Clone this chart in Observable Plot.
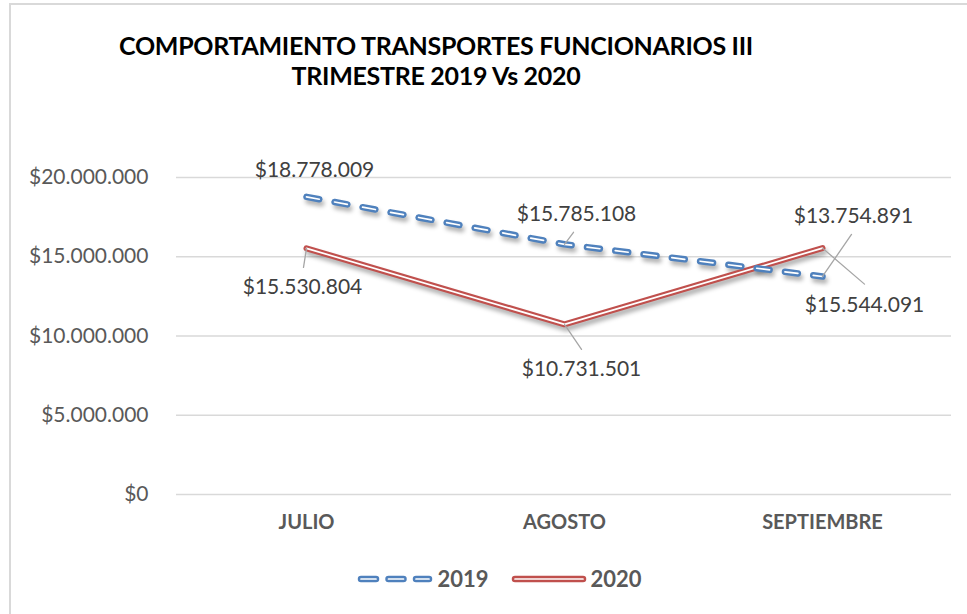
<!DOCTYPE html>
<html>
<head>
<meta charset="utf-8">
<script src="https://cdn.jsdelivr.net/npm/d3@7"></script>
<script src="https://cdn.jsdelivr.net/npm/@observablehq/plot@0.6"></script>
<style>
  html, body { margin: 0; padding: 0; background: #fff; overflow: hidden; }
  #wrap { position: relative; width: 967px; height: 614px; overflow: hidden; font-family: Lato, "Open Sans", sans-serif; }
  #frame { position: absolute; left: 9px; top: 3px; width: 990px; height: 650px; border: 2px solid #d9d9d9; box-sizing: border-box; }
  #chart { position: absolute; left: 0; top: 0; }
  #title { position: absolute; left: 0; width: 872px; top: 30px; text-align: center; font-weight: 700; font-size: 25px; line-height: 30px; color: #000; letter-spacing: -0.3px; }
  #legend { position: absolute; top: 565px; left: 16px; width: 967px; display: flex; justify-content: center; align-items: center; font-weight: 700; font-size: 22px; color: #595959; }
  #legend .item { display: flex; align-items: center; margin: 0 11px; }
  #legend svg { margin-right: 4px; }
</style>
</head>
<body>
<div id="wrap">
  <div id="frame"></div>
  <div id="chart"></div>
  <div id="title">COMPORTAMIENTO TRANSPORTES FUNCIONARIOS III<br>TRIMESTRE 2019 Vs 2020</div>
  <div id="legend"></div>
</div>
<script>
// ---- data ----
const months = ["JULIO", "AGOSTO", "SEPTIEMBRE"];
const seriesNames = ["2019", "2020"];
const values2019 = [18778009, 15785108, 13754891];
const values2020 = [15530804, 10731501, 15544091];
const yTicks = [0, 5000000, 10000000, 15000000, 20000000];

// ---- styling / layout (not data) ----
const colors = { "2019": "#4f81bd", "2020": "#c0504d" };
// data-label offsets in px (dx, dy) relative to the point
const labelOffsets = {
  "2019": [[8, -27], [12, -30], [31, -60]],
  "2020": [[-4, 39], [17, 45], [42, 57]]
};
// leader line offsets in px (end point relative to the data point)
const leaderOffsets = {
  "2019": [null, [9, -12], [29, -42]],
  "2020": [[-3, 19], [17, 25], [42, 36]]
};

const locale = d3.formatLocale({ decimal: ",", thousands: ".", grouping: [3], currency: ["$", ""] });
const fmt = locale.format("$,.0f");

const rows = [];
seriesNames.forEach(s => {
  const vals = s === "2019" ? values2019 : values2020;
  months.forEach((m, i) => rows.push({ series: s, month: m, value: vals[i], idx: i }));
});
const r2019 = rows.filter(d => d.series === "2019");
const r2020 = rows.filter(d => d.series === "2020");

const leaders = rows.filter(d => leaderOffsets[d.series][d.idx]).map(d => {
  const [ddx, ddy] = leaderOffsets[d.series][d.idx];
  return { ...d, len: Math.hypot(ddx, ddy), angle: Math.atan2(ddx, -ddy) * 180 / Math.PI };
});

const lineShape = { draw(ctx, l) { ctx.moveTo(0, 0); ctx.lineTo(0, -l); } };

const dash = "13 15.5";
const marks = [
  Plot.ruleY(yTicks, { stroke: "#d9d9d9", strokeWidth: 1.5 }),
  Plot.axisY(yTicks, { tickSize: 0, tickPadding: 28, tickFormat: fmt, fontSize: 21, label: null, fill: "#595959" }),
  Plot.axisX({ tickSize: 0, tickPadding: 20, fontSize: 20, fontWeight: "bold", label: null, fill: "#595959" }),
  // shadows (blurred after render)
  Plot.line(r2019, { x: "month", y: "value", stroke: "#000", strokeOpacity: 0.3, strokeWidth: 6.5, dx: 2, dy: 4, strokeDasharray: dash, strokeLinecap: "round" }),
  Plot.line(r2020, { x: "month", y: "value", stroke: "#000", strokeOpacity: 0.3, strokeWidth: 6, dx: 2, dy: 4 }),
  // 2020 double line
  Plot.line(r2020, { x: "month", y: "value", stroke: colors["2020"], strokeWidth: 6, strokeLinejoin: "miter" }),
  Plot.line(r2020, { x: "month", y: "value", stroke: "#fff", strokeWidth: 1.7, strokeLinejoin: "miter" }),
  // 2019 dashed double line
  Plot.line(r2019, { x: "month", y: "value", stroke: colors["2019"], strokeWidth: 6.5, strokeDasharray: dash, strokeLinecap: "round" }),
  Plot.line(r2019, { x: "month", y: "value", stroke: "#fff", strokeWidth: 1.7, strokeDasharray: dash, strokeLinecap: "round" }),
  // leader lines
  Plot.vector(leaders, { x: "month", y: "value", length: "len", rotate: "angle", anchor: "start", shape: lineShape, stroke: "#a6a6a6", strokeWidth: 1.3 }),
  // data labels
  ...rows.map(d => {
    const [dx, dy] = labelOffsets[d.series][d.idx];
    return Plot.text([d], { x: "month", y: "value", text: r => fmt(r.value), dx, dy, fontSize: 21, fill: "#404040" });
  })
];

const plot = Plot.plot({
  width: 967,
  height: 614,
  marginLeft: 176,
  marginRight: 16,
  marginTop: 177,
  marginBottom: 120,
  style: { fontFamily: "Lato, 'Open Sans', sans-serif", background: "transparent", color: "#595959", overflow: "visible" },
  x: { type: "point", domain: months, padding: 0.5, axis: null },
  y: { domain: [0, 20000000], axis: null },
  length: { type: "identity" },
  marks
});

// blur the two shadow lines
const svg = d3.select(plot);
const defs = svg.insert("defs", ":first-child");
defs.append("filter").attr("id", "shadowBlur").attr("x", "-5%").attr("y", "-20%").attr("width", "110%").attr("height", "140%")
  .append("feGaussianBlur").attr("stdDeviation", 2.2);
svg.selectAll('g[aria-label="line"]').filter((d, i) => i < 2).attr("filter", "url(#shadowBlur)");

document.getElementById("chart").appendChild(plot);

// legend
const legend = d3.select("#legend");
seriesNames.forEach(s => {
  const item = legend.append("div").attr("class", "item");
  const sv = item.append("svg").attr("width", 76).attr("height", 14);
  const da = s === "2019" ? "15 12.5" : null;
  sv.append("line").attr("x1", 4).attr("x2", 72).attr("y1", 7).attr("y2", 7)
    .attr("stroke", colors[s]).attr("stroke-width", 6.5)
    .attr("stroke-linecap", "round").attr("stroke-dasharray", da);
  sv.append("line").attr("x1", 4).attr("x2", 72).attr("y1", 7).attr("y2", 7)
    .attr("stroke", "#fff").attr("stroke-width", 1.7)
    .attr("stroke-linecap", "round").attr("stroke-dasharray", da);
  item.append("span").text(s);
});
</script>
</body>
</html>
